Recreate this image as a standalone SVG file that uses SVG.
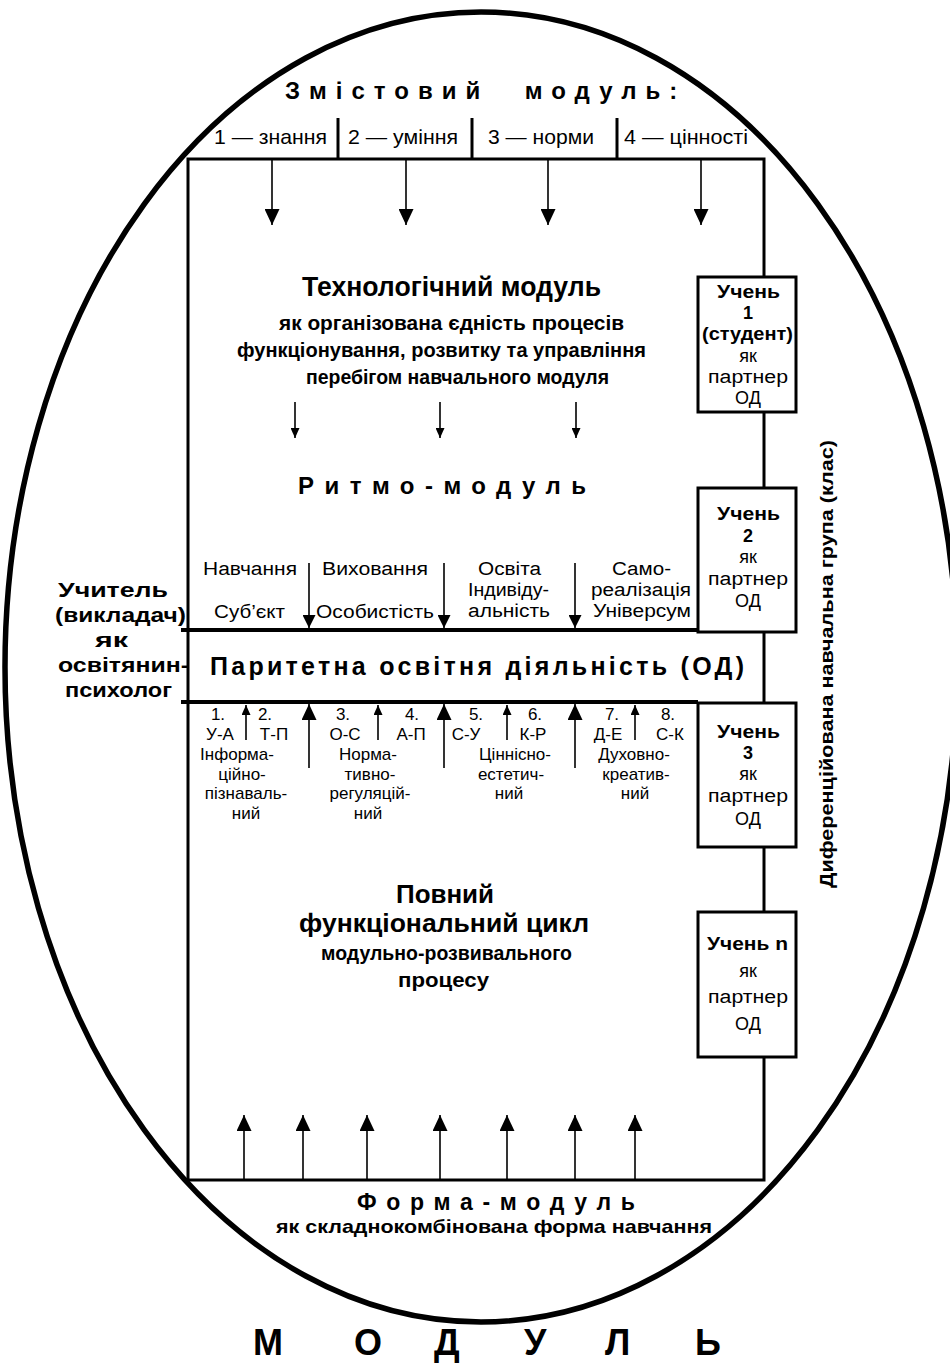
<svg xmlns="http://www.w3.org/2000/svg" width="950" height="1363" viewBox="0 0 950 1363">
<style>
text{font-family:"Liberation Sans",Arial,sans-serif;fill:#000}
.b{font-weight:bold}
.c{text-anchor:middle}
.r18{font-size:18px}
.r17{font-size:17px}
.ln{stroke:#000;stroke-width:1.6;fill:none}
.frame{fill:none;stroke:#000;stroke-width:3}
.box{fill:#fff;stroke:#000;stroke-width:3}
.thick{stroke:#000;stroke-width:4}
.sep{stroke:#000;stroke-width:3}
.bx{font-size:18px}
</style>
<defs>
<marker id="hb" markerUnits="userSpaceOnUse" viewBox="0 0 16 15" markerWidth="16" markerHeight="15" refX="16" refY="7.5" orient="auto"><path d="M0,0 L16,7.5 L0,15 z" fill="#000"/></marker>
<marker id="hm" markerUnits="userSpaceOnUse" viewBox="0 0 13 13" markerWidth="13" markerHeight="13" refX="13" refY="6.5" orient="auto"><path d="M0,0 L13,6.5 L0,13 z" fill="#000"/></marker>
<marker id="hs" markerUnits="userSpaceOnUse" viewBox="0 0 10 9" markerWidth="10" markerHeight="9" refX="10" refY="4.5" orient="auto"><path d="M0,0 L10,4.5 L0,9 z" fill="#000"/></marker>
</defs>
<rect width="950" height="1363" fill="#fff"/>
<ellipse id="oval" cx="481" cy="667" rx="476" ry="655" fill="none" stroke="#000" stroke-width="5.5"/>

<g id="frame">
<rect x="188" y="159" width="576" height="1021" class="frame"/>
<line x1="338" y1="118" x2="338" y2="159" class="sep"/>
<line x1="472" y1="118" x2="472" y2="159" class="sep"/>
<line x1="617" y1="118" x2="617" y2="159" class="sep"/>
<line x1="181" y1="630" x2="698" y2="630" class="thick"/>
<line x1="181" y1="702" x2="698" y2="702" class="thick"/>
</g>

<g id="content-module">
<text class="b" x="285" y="99" font-size="24" letter-spacing="9" word-spacing="20">Змістовий модуль:</text>
<text x="214" y="144" font-size="21" textLength="113" lengthAdjust="spacingAndGlyphs">1 — знання</text>
<text x="348" y="144" font-size="21" textLength="110" lengthAdjust="spacingAndGlyphs">2 — уміння</text>
<text x="488" y="144" font-size="21" textLength="106" lengthAdjust="spacingAndGlyphs">3 — норми</text>
<text x="624" y="144" font-size="21" textLength="124" lengthAdjust="spacingAndGlyphs">4 — цінності</text>
</g>

<g id="tech-module">
<text class="b" x="302" y="296" font-size="27" textLength="299" lengthAdjust="spacingAndGlyphs">Технологічний модуль</text>
<text class="b" x="279" y="330" font-size="21" textLength="345" lengthAdjust="spacingAndGlyphs">як організована єдність процесів</text>
<text class="b" x="237" y="357" font-size="21" textLength="409" lengthAdjust="spacingAndGlyphs">функціонування, розвитку та управління</text>
<text class="b" x="306" y="384" font-size="21" textLength="303" lengthAdjust="spacingAndGlyphs">перебігом навчального модуля</text>
</g>

<g id="rhythm-module">
<text class="b" x="298" y="494" font-size="24" textLength="288" lengthAdjust="spacing">Ритмо-модуль</text>
<text class="r18" x="203" y="575" textLength="94" lengthAdjust="spacingAndGlyphs">Навчання</text>
<text class="r18" x="322" y="575" textLength="106" lengthAdjust="spacingAndGlyphs">Виховання</text>
<text class="r18" x="478" y="575" textLength="63" lengthAdjust="spacingAndGlyphs">Освіта</text>
<text class="r18" x="468" y="596" textLength="81" lengthAdjust="spacingAndGlyphs">Індивіду-</text>
<text class="r18" x="468" y="617" textLength="82" lengthAdjust="spacingAndGlyphs">альність</text>
<text class="r18" x="612" y="575" textLength="59" lengthAdjust="spacingAndGlyphs">Само-</text>
<text class="r18" x="591" y="596" textLength="100" lengthAdjust="spacingAndGlyphs">реалізація</text>
<text class="r18" x="593" y="617" textLength="98" lengthAdjust="spacingAndGlyphs">Універсум</text>
<text class="r18" x="214" y="618" textLength="71" lengthAdjust="spacingAndGlyphs">Суб’єкт</text>
<text class="r18" x="316" y="618" textLength="118" lengthAdjust="spacingAndGlyphs">Особистість</text>
</g>

<g id="parity-activity">
<text class="b" x="210" y="675" font-size="25" textLength="534" lengthAdjust="spacing">Паритетна освітня діяльність (ОД)</text>
</g>

<g id="functions">
<text class="r17 c" x="218" y="720">1.</text>
<text class="r17 c" x="220" y="740">У-А</text>
<text class="r17 c" x="265" y="720">2.</text>
<text class="r17 c" x="274" y="740">Т-П</text>
<text class="r17 c" x="343" y="720">3.</text>
<text class="r17 c" x="345" y="740">О-С</text>
<text class="r17 c" x="412" y="720">4.</text>
<text class="r17 c" x="411" y="740">А-П</text>
<text class="r17 c" x="476" y="720">5.</text>
<text class="r17 c" x="466" y="740">С-У</text>
<text class="r17 c" x="535" y="720">6.</text>
<text class="r17 c" x="533" y="740">К-Р</text>
<text class="r17 c" x="612" y="720">7.</text>
<text class="r17 c" x="608" y="740">Д-Е</text>
<text class="r17 c" x="668" y="720">8.</text>
<text class="r17 c" x="670" y="740">С-К</text>
<text class="r17 c" x="237" y="760">Інформа-</text>
<text class="r17 c" x="242" y="779.5">ційно-</text>
<text class="r17 c" x="246" y="799">пізнаваль-</text>
<text class="r17 c" x="246" y="818.5">ний</text>
<text class="r17 c" x="368" y="760">Норма-</text>
<text class="r17 c" x="370" y="779.5">тивно-</text>
<text class="r17 c" x="370" y="799">регуляцій-</text>
<text class="r17 c" x="368" y="818.5">ний</text>
<text class="r17 c" x="515" y="760">Ціннісно-</text>
<text class="r17 c" x="511" y="779.5">естетич-</text>
<text class="r17 c" x="509" y="799">ний</text>
<text class="r17 c" x="634" y="760">Духовно-</text>
<text class="r17 c" x="636" y="779.5">креатив-</text>
<text class="r17 c" x="635" y="799">ний</text>
</g>

<g id="full-cycle">
<text class="b" x="396" y="903" font-size="26" textLength="98" lengthAdjust="spacingAndGlyphs">Повний</text>
<text class="b" x="299" y="932" font-size="26" textLength="290" lengthAdjust="spacingAndGlyphs">функціональний цикл</text>
<text class="b" x="321" y="960" font-size="21" textLength="251" lengthAdjust="spacingAndGlyphs">модульно-розвивального</text>
<text class="b" x="398" y="987" font-size="21" textLength="91" lengthAdjust="spacingAndGlyphs">процесу</text>
</g>

<g id="form-module">
<text class="b" x="357" y="1210" font-size="23" textLength="278" lengthAdjust="spacing">Форма-модуль</text>
<text class="b" x="276" y="1233" font-size="19" textLength="436" lengthAdjust="spacingAndGlyphs">як складнокомбінована форма навчання</text>
</g>

<g id="module-title">
<text class="b" x="253 354 434 524 605 695" y="1355" font-size="36">МОДУЛЬ</text>
</g>

<g id="teacher">
<text class="b" x="58" y="597" font-size="21" textLength="110" lengthAdjust="spacingAndGlyphs">Учитель</text>
<text class="b" x="55" y="622" font-size="21" textLength="131" lengthAdjust="spacingAndGlyphs">(викладач)</text>
<text class="b" x="95" y="647" font-size="21" textLength="33" lengthAdjust="spacingAndGlyphs">як</text>
<text class="b" x="58" y="672" font-size="21" textLength="131" lengthAdjust="spacingAndGlyphs">освітянин-</text>
<text class="b" x="65" y="697" font-size="21" textLength="107" lengthAdjust="spacingAndGlyphs">психолог</text>
</g>

<g id="group-label">
<text class="b c" transform="translate(833,664) rotate(-90)" font-size="19" textLength="448" lengthAdjust="spacingAndGlyphs">Диференційована навчальна група (клас)</text>
</g>

<g id="student-1">
<rect x="698" y="277" width="98" height="135" class="box"/>
<text class="b bx" x="717" y="298" textLength="63" lengthAdjust="spacingAndGlyphs">Учень</text>
<text class="b bx c" x="748" y="319">1</text>
<text class="b bx" x="702" y="340" textLength="91" lengthAdjust="spacingAndGlyphs">(студент)</text>
<text class="bx c" x="748" y="362">як</text>
<text class="bx" x="708" y="383" textLength="80" lengthAdjust="spacingAndGlyphs">партнер</text>
<text class="bx c" x="748" y="404">ОД</text>
</g>
<g id="student-2">
<rect x="698" y="488" width="98" height="144" class="box"/>
<text class="b bx" x="717" y="520" textLength="63" lengthAdjust="spacingAndGlyphs">Учень</text>
<text class="b bx c" x="748" y="542">2</text>
<text class="bx c" x="748" y="563">як</text>
<text class="bx" x="708" y="585" textLength="80" lengthAdjust="spacingAndGlyphs">партнер</text>
<text class="bx c" x="748" y="607">ОД</text>
</g>
<g id="student-3">
<rect x="698" y="703" width="98" height="144" class="box"/>
<text class="b bx" x="717" y="738" textLength="63" lengthAdjust="spacingAndGlyphs">Учень</text>
<text class="b bx c" x="748" y="759">3</text>
<text class="bx c" x="748" y="780">як</text>
<text class="bx" x="708" y="802" textLength="80" lengthAdjust="spacingAndGlyphs">партнер</text>
<text class="bx c" x="748" y="825">ОД</text>
</g>
<g id="student-n">
<rect x="698" y="912" width="98" height="145" class="box"/>
<text class="b bx" x="707" y="950" textLength="81" lengthAdjust="spacingAndGlyphs">Учень n</text>
<text class="bx c" x="748" y="977">як</text>
<text class="bx" x="708" y="1003" textLength="80" lengthAdjust="spacingAndGlyphs">партнер</text>
<text class="bx c" x="748" y="1030">ОД</text>
</g>

<g id="connectors">
<line x1="272" y1="160" x2="272" y2="225" class="ln" marker-end="url(#hb)"/>
<line x1="406" y1="160" x2="406" y2="225" class="ln" marker-end="url(#hb)"/>
<line x1="548" y1="160" x2="548" y2="225" class="ln" marker-end="url(#hb)"/>
<line x1="701" y1="160" x2="701" y2="225" class="ln" marker-end="url(#hb)"/>
<line x1="295" y1="402" x2="295" y2="438" class="ln" marker-end="url(#hs)"/>
<line x1="440" y1="402" x2="440" y2="438" class="ln" marker-end="url(#hs)"/>
<line x1="576" y1="402" x2="576" y2="438" class="ln" marker-end="url(#hs)"/>
<line x1="309" y1="563" x2="309" y2="628" class="ln" marker-end="url(#hm)"/>
<line x1="444" y1="563" x2="444" y2="628" class="ln" marker-end="url(#hm)"/>
<line x1="575" y1="563" x2="575" y2="628" class="ln" marker-end="url(#hm)"/>
<line x1="309" y1="768" x2="309" y2="704" class="ln" marker-end="url(#hb)"/>
<line x1="444" y1="768" x2="444" y2="704" class="ln" marker-end="url(#hb)"/>
<line x1="575" y1="768" x2="575" y2="704" class="ln" marker-end="url(#hb)"/>
<line x1="246" y1="740" x2="246" y2="705" class="ln" marker-end="url(#hs)"/>
<line x1="378" y1="740" x2="378" y2="705" class="ln" marker-end="url(#hs)"/>
<line x1="507" y1="740" x2="507" y2="705" class="ln" marker-end="url(#hs)"/>
<line x1="635" y1="740" x2="635" y2="705" class="ln" marker-end="url(#hs)"/>
<line x1="244" y1="1179" x2="244" y2="1115" class="ln" marker-end="url(#hb)"/>
<line x1="303" y1="1179" x2="303" y2="1115" class="ln" marker-end="url(#hb)"/>
<line x1="367" y1="1179" x2="367" y2="1115" class="ln" marker-end="url(#hb)"/>
<line x1="440" y1="1179" x2="440" y2="1115" class="ln" marker-end="url(#hb)"/>
<line x1="507" y1="1179" x2="507" y2="1115" class="ln" marker-end="url(#hb)"/>
<line x1="575" y1="1179" x2="575" y2="1115" class="ln" marker-end="url(#hb)"/>
<line x1="635" y1="1179" x2="635" y2="1115" class="ln" marker-end="url(#hb)"/>
</g>
</svg>
